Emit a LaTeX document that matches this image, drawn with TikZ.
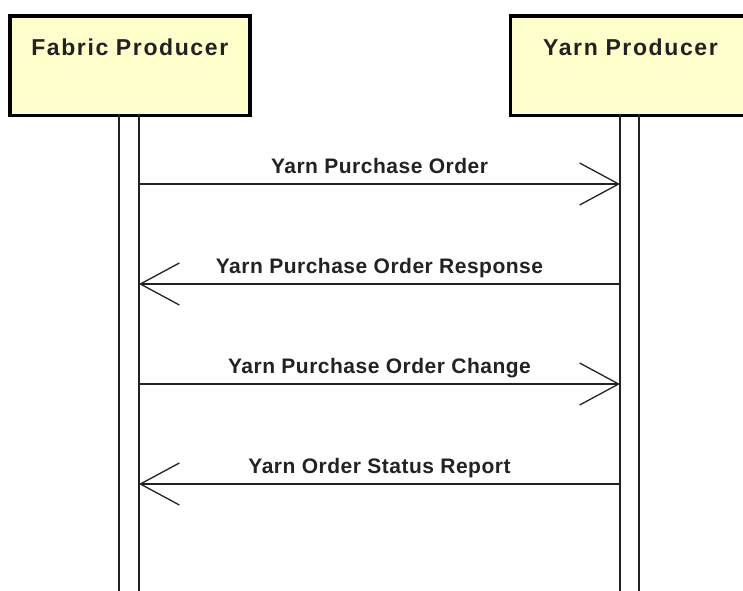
\documentclass[tikz,border=0pt]{standalone}
\usepackage{fontspec}
\setmainfont{Liberation Sans}
\usetikzlibrary{arrows.meta}
\definecolor{boxfill}{HTML}{FFFFCC}
\definecolor{ink}{HTML}{222222}
\begin{document}
\begin{tikzpicture}[x=1pt,y=-1pt,
  actor/.style={draw=black, line width=3.5pt, fill=boxfill, inner sep=0pt,
    text width=240pt, align=center, text height=40pt, text depth=59.5pt,
    font=\fontsize{23}{23}\selectfont\bfseries\addfontfeature{LetterSpace=7}, text=ink},
  life/.style={draw=ink, line width=1.3pt},
  msg/.style={draw=ink, line width=1.3pt, -{Straight Barb[length=39pt,width=42pt]}},
  msglabel/.style={anchor=base, yshift=10.5pt, inner sep=0pt, text=ink,
    font=\fontsize{21}{21}\selectfont\bfseries\addfontfeature{LetterSpace=2.4}}]
\clip (0,0) rectangle (743,590);
% actors
\node[actor, anchor=north west] (fp) at (8,14) {Fabric Producer};
\node[actor, anchor=north west] (yp) at (508.7,14) {Yarn Producer};
% lifelines
\coordinate (fpA) at (119,113.5);
\coordinate (fpB) at (139,113.5);
\coordinate (ypA) at (620,113.5);
\coordinate (ypB) at (639,113.5);
\coordinate (fpAe) at (119,595);
\coordinate (fpBe) at (139,595);
\coordinate (ypAe) at (620,595);
\coordinate (ypBe) at (639,595);
\draw[life] (fpA) -- (fpAe);
\draw[life] (fpB) -- (fpBe);
\draw[life] (ypA) -- (ypAe);
\draw[life] (ypB) -- (ypBe);
% message anchors
\foreach \i/\y in {1/184,2/284,3/384,4/484}{
  \coordinate (L\i) at (139,\y);
  \coordinate (R\i) at (620,\y);
}
\draw[msg] (L1) -- node[msglabel] (m1) {Yarn Purchase Order} (R1);
\draw[msg] (R2) -- node[msglabel] (m2) {Yarn Purchase Order Response} (L2);
\draw[msg] (L3) -- node[msglabel] (m3) {Yarn Purchase Order Change} (R3);
\draw[msg] (R4) -- node[msglabel] (m4) {Yarn Order Status Report} (L4);
\end{tikzpicture}
\end{document}
